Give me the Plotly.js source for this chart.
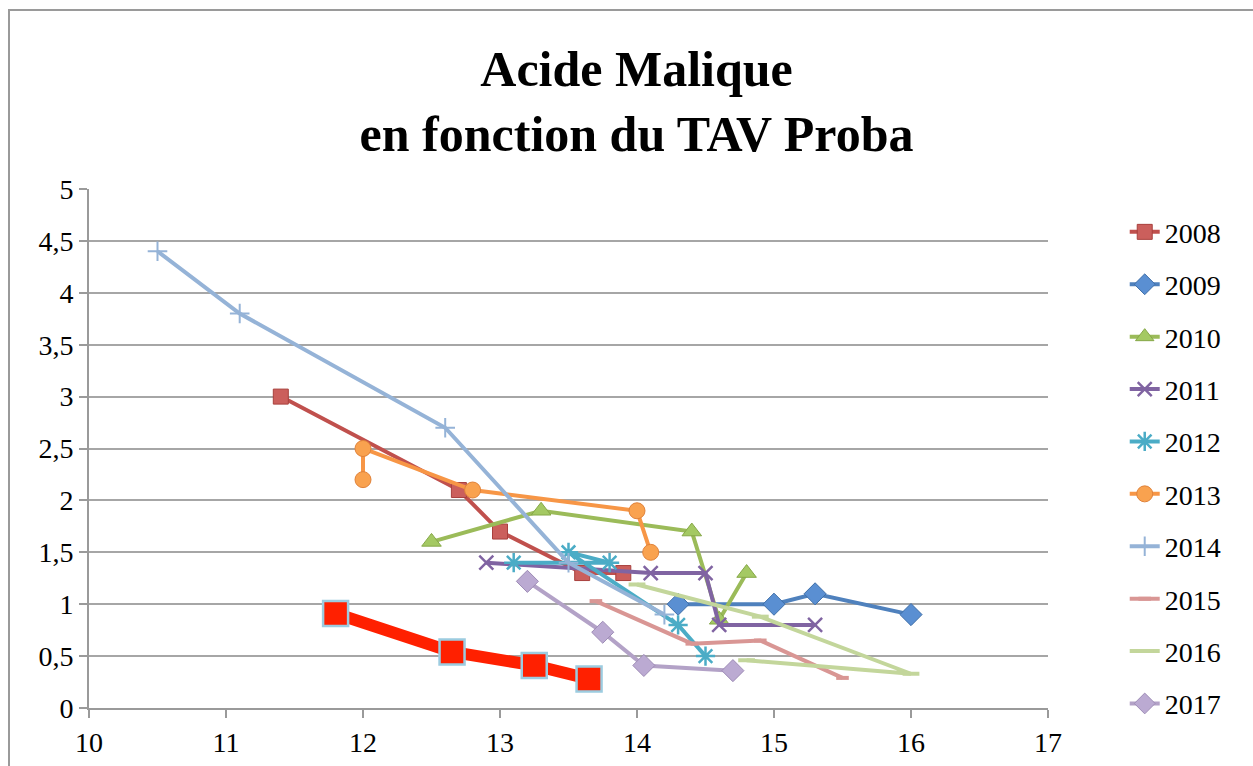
<!DOCTYPE html>
<html>
<head>
<meta charset="utf-8">
<script src="https://cdn.plot.ly/plotly-3.0.1.min.js"></script>
<style>
html,body{margin:0;padding:0;background:#fff;}
#chart{width:1253px;height:766px;}
</style>
</head>
<body>
<div id="chart"></div>
<script>
// Data (x = TAV Proba, y = acide malique)
const seriesNames = ["2008","2009","2010","2011","2012","2013","2014","2015","2016","2017"];

const x2008 = [11.4, 12.7, 13.0, 13.6, 13.9];
const y2008 = [3.0, 2.1, 1.7, 1.3, 1.3];

const x2009 = [14.3, 15.0, 15.3, 16.0];
const y2009 = [1.0, 1.0, 1.1, 0.9];

const x2010 = [12.5, 13.3, 14.4, 14.6, 14.8];
const y2010 = [1.6, 1.9, 1.7, 0.85, 1.3];

const x2011 = [12.9, 14.1, 14.5, 14.6, 15.3];
const y2011 = [1.4, 1.3, 1.3, 0.8, 0.8];

const x2012 = [13.1, 13.8, 13.5, 14.3, 14.5];
const y2012 = [1.4, 1.4, 1.5, 0.8, 0.5];

const x2013 = [12.0, 12.0, 12.8, 14.0, 14.1];
const y2013 = [2.2, 2.5, 2.1, 1.9, 1.5];

const x2014 = [10.5, 11.1, 12.6, 13.5, 14.2];
const y2014 = [4.4, 3.8, 2.7, 1.4, 0.9];

const x2015 = [13.7, 14.4, 14.9, 15.5];
const y2015 = [1.03, 0.62, 0.65, 0.29];

const x2016 = [14.0, 14.9, 16.0, 14.8];
const y2016 = [1.19, 0.88, 0.33, 0.46];

const x2017 = [13.2, 13.75, 14.05, 14.7];
const y2017 = [1.22, 0.73, 0.41, 0.36];

// Highlighted series (not in legend)
const xHighlight = [11.8, 12.65, 13.25, 13.65];
const yHighlight = [0.91, 0.54, 0.41, 0.28];

const xTickVals = [10, 11, 12, 13, 14, 15, 16, 17];
const yTickVals = [0, 0.5, 1, 1.5, 2, 2.5, 3, 3.5, 4, 4.5, 5];
const yTickText = ["0", "0,5", "1", "1,5", "2", "2,5", "3", "3,5", "4", "4,5", "5"];

const xs = [x2008,x2009,x2010,x2011,x2012,x2013,x2014,x2015,x2016,x2017];
const ys = [y2008,y2009,y2010,y2011,y2012,y2013,y2014,y2015,y2016,y2017];

const styles = [
  {line:'#C0504D', sym:'square', size:15, fill:'#CB5F5C', mline:'#A8403D', mw:1},
  {line:'#4F81BD', sym:'diamond', size:17, fill:'#5A8FD2', mline:'#3F6FA8', mw:1},
  {line:'#9BBB59', sym:'triangle-up', size:17, fill:'#A4C963', mline:'#86A848', mw:1},
  {line:'#8064A2', sym:'x-thin-open', size:14, fill:'#8064A2', mline:'#8064A2', mw:2.5},
  {line:'#4BACC6', sym:'asterisk-open', size:16, fill:'#4BACC6', mline:'#4BACC6', mw:2.5},
  {line:'#F79646', sym:'circle', size:16, fill:'#F9A24F', mline:'#E0823A', mw:1},
  {line:'#95B3D7', sym:'cross-thin-open', size:14, fill:'#95B3D7', mline:'#95B3D7', mw:2},
  {line:'#D99694', sym:'line-ew-open', size:9, fill:'#D99694', mline:'#D99694', mw:4},
  {line:'#C3D69B', sym:'line-ew-open', size:12, fill:'#C3D69B', mline:'#C3D69B', mw:4},
  {line:'#B3A2C7', sym:'diamond', size:17, fill:'#BBAAD2', mline:'#9E8CB6', mw:1}
];

const traces = [];
seriesNames.forEach((name, i) => {
  const s = styles[i];
  traces.push({
    type: 'scatter',
    mode: 'lines+markers',
    name: name,
    legendgroup: 'g' + name,
    x: xs[i],
    y: ys[i],
    line: {color: s.line, width: 4},
    marker: {symbol: s.sym, size: s.size, color: s.fill, line: {color: s.mline, width: s.mw}}
  });
});

traces.push({
  type: 'scatter',
  mode: 'lines+markers',
  name: 'highlight',
  showlegend: false,
  x: xHighlight,
  y: yHighlight,
  line: {color: '#FF2000', width: 12},
  marker: {symbol: 'square', size: 25, color: '#FF2000', line: {color: '#9CCCE0', width: 2.5}}
});

const layout = {
  width: 1253,
  height: 766,
  paper_bgcolor: '#ffffff',
  plot_bgcolor: '#ffffff',
  margin: {l: 89, r: 205, t: 189, b: 58, pad: 0},
  separators: ', ',
  font: {family: '"Liberation Serif", "DejaVu Serif", serif', color: '#000'},
  title: {
    text: '<b>Acide Malique</b><br><b>en fonction du TAV Proba</b>',
    font: {family: '"Liberation Serif", serif', size: 50, color: '#000'},
    x: 0.508, xref: 'container', xanchor: 'center',
    y: 0.888, yref: 'container', yanchor: 'top'
  },
  xaxis: {
    range: [10, 17],
    tickvals: xTickVals,
    ticktext: xTickVals.map(String),
    showgrid: false,
    zeroline: false,
    showline: true,
    linecolor: '#9a9a9a',
    linewidth: 2,
    ticks: 'outside',
    ticklen: 8,
    tickwidth: 2,
    tickcolor: '#9a9a9a',
    tickfont: {size: 28, family: '"Liberation Serif", serif', color: '#000'},
    fixedrange: true
  },
  yaxis: {
    range: [0, 5],
    tickvals: yTickVals,
    ticktext: yTickText,
    showgrid: true,
    gridcolor: '#a6a6a6',
    gridwidth: 2,
    zeroline: false,
    showline: true,
    linecolor: '#9a9a9a',
    linewidth: 2,
    ticks: 'outside',
    ticklen: 8,
    tickwidth: 2,
    tickcolor: '#9a9a9a',
    tickfont: {size: 28, family: '"Liberation Serif", serif', color: '#000'},
    fixedrange: true
  },
  legend: {
    x: 1.08, xanchor: 'left',
    y: 0.965, yanchor: 'top',
    xref: 'paper', yref: 'paper',
    font: {size: 28, family: '"Liberation Serif", serif', color: '#000'},
    tracegroupgap: 13,
    bgcolor: 'rgba(0,0,0,0)'
  },
  shapes: [
    {type: 'rect', xref: 'paper', yref: 'paper',
     x0: (9 - 89) / 959, x1: 1.4, y0: -0.5, y1: (708 - 10) / 519,
     line: {color: '#9a9a9a', width: 2}, fillcolor: 'rgba(0,0,0,0)', layer: 'below'}
  ]
};

Plotly.newPlot('chart', traces, layout, {displayModeBar: false, staticPlot: true});
</script>
</body>
</html>
